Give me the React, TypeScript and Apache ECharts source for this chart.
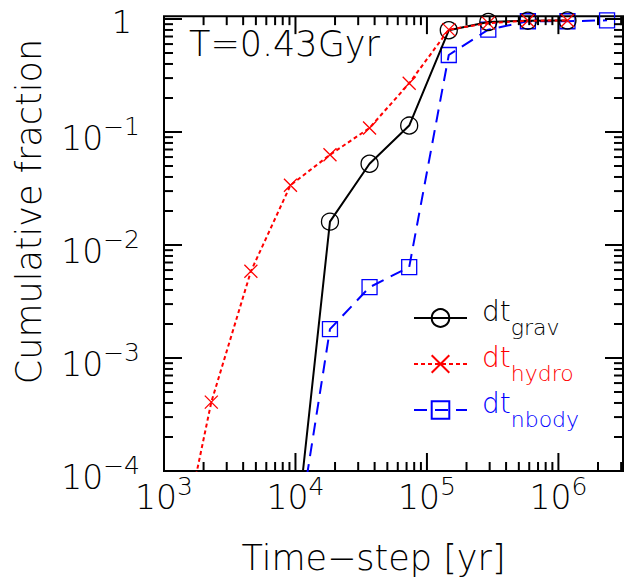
import React, { useEffect, useRef } from 'react';
import * as echarts from 'echarts';

// ---- data ----
const hydroSteps = [1145, 2290, 4580, 9160, 18300, 36600, 73300, 146600, 293000, 586000, 1172000];
const hydroFrac = [8.5e-6, 4.07e-4, 5.85e-3, 0.0338, 0.0629, 0.1086, 0.27, 0.805, 0.92, 0.966, 0.97];

const gravSteps = [9160, 18300, 36600, 73300, 146600, 293000, 586000, 1172000];
const gravFrac = [9.5e-6, 0.0161, 0.0524, 0.114, 0.795, 0.94, 0.966, 0.97];

const nbodySteps = [9160, 18300, 36600, 73300, 146600, 293000, 586000, 1172000, 2345000];
const nbodyFrac = [1.07e-5, 1.8e-3, 4.23e-3, 6.38e-3, 0.48, 0.805, 0.955, 0.955, 0.974];

const xMin = 1e3;
const xMax = 3.1e6;
const yMin = 1e-4;
const yMax = 1.06;

const xDecades = [3, 4, 5, 6];
const yDecades = [-4, -3, -2, -1, 0];

const FONT = 'DejaVu Sans';
const FW = 200;

function buildTicks(decades: number[], lo: number, hi: number) {
  const out: number[][] = [];
  decades.forEach((d) => {
    for (let m = 1; m <= 9; m++) {
      const v = m * Math.pow(10, d);
      if (v >= lo * 0.999 && v <= hi) out.push([v, m === 1 ? 1 : 0]);
    }
  });
  return out;
}

const supLabel = (v: number) => {
  const e = Math.round(Math.log10(v));
  if (e === 0) return '{one|1}';
  return `{b|10}{s|${e < 0 ? '\u2212' + -e : e}}`;
};

const labelRich = {
  b: { fontSize: 33, lineHeight: 33, padding: [12, 0, 0, 0], fontFamily: FONT, fontWeight: FW, color: '#000' },
  s: { fontSize: 25, lineHeight: 25, padding: [0, 0, 11, 0], fontFamily: FONT, fontWeight: FW, color: '#000' },
  one: { fontSize: 32, lineHeight: 26, padding: [6, 8, 0, 0], fontFamily: FONT, fontWeight: FW, color: '#000' },
};

const legendNames = ['grav', 'hydro', 'nbody'];
const legendColors: Record<string, string> = { grav: '#000', hydro: '#ff0000', nbody: '#0000ff' };

const legendRich: Record<string, any> = {};
legendNames.forEach((n) => {
  legendRich['d' + n] = { fontSize: 28, lineHeight: 28, padding: [0, 0, 14, 0], fontFamily: FONT, fontWeight: FW, color: legendColors[n] };
  legendRich['s' + n] = { fontSize: 22, lineHeight: 22, padding: [19, 0, 0, 0], fontFamily: FONT, fontWeight: FW, color: legendColors[n] };
});

export default function App() {
  const ref = useRef<HTMLDivElement>(null);
  useEffect(() => {
    const chart = echarts.init(ref.current!, null, { renderer: 'svg' });
    const xTicks = buildTicks(xDecades, xMin, xMax).map((t) => [t[0], 0.01, t[1]]);
    const yTicks = buildTicks(yDecades, yMin, yMax).map((t) => [1e4, t[0], t[1]]);

    const option: any = {
      animation: false,
      backgroundColor: '#fff',
      title: {
        text: 'T=0.43Gyr',
        left: 189,
        top: 26,
        padding: 0,
        textStyle: { fontFamily: FONT, fontSize: 35, fontWeight: FW, color: '#000', lineHeight: 35 },
      },
      grid: {
        left: 164,
        right: 18,
        top: 13,
        bottom: 112,
        show: true,
        borderColor: '#000',
        borderWidth: 2,
        backgroundColor: 'transparent',
      },
      legend: {
        orient: 'vertical',
        left: 413,
        top: 297,
        padding: 0,
        itemGap: 4,
        itemWidth: 53,
        itemHeight: 22,
        data: legendNames,
        formatter: (n: string) => `{d${n}|dt}{s${n}|${n}}`,
        textStyle: { padding: [0, 0, 0, 10], rich: legendRich },
      },
      xAxis: {
        type: 'log',
        logBase: 10,
        min: xMin,
        max: xMax,
        name: 'Time\u2212step [yr]',
        nameLocation: 'middle',
        nameGap: 69,
        nameTextStyle: { fontFamily: FONT, fontSize: 35, fontWeight: FW, color: '#000', padding: [0, 40, 0, 0] },
        axisLine: { show: false },
        axisTick: { show: false },
        splitLine: { show: false },
        minorTick: { show: false },
        axisLabel: { margin: 4, showMaxLabel: false, formatter: supLabel, rich: labelRich },
      },
      yAxis: {
        type: 'log',
        logBase: 10,
        min: yMin,
        max: yMax,
        name: 'Cumulative fraction',
        nameLocation: 'middle',
        nameRotate: 90,
        nameGap: 118,
        nameTextStyle: { fontFamily: FONT, fontSize: 35, fontWeight: FW, color: '#000', padding: [0, 0, 0, 64] },
        axisLine: { show: false },
        axisTick: { show: false },
        splitLine: { show: false },
        axisLabel: { margin: 24, showMaxLabel: false, formatter: supLabel, rich: labelRich },
      },
      series: [
        {
          type: 'line',
          name: 'grav',
          data: gravSteps.map((x, i) => [x, gravFrac[i]]),
          symbol: 'circle',
          symbolSize: 17,
          itemStyle: { color: 'rgba(0,0,0,0)', borderColor: '#000', borderWidth: 1.3 },
          lineStyle: { color: '#000', width: 2 },
          z: 3,
        },
        {
          type: 'line',
          name: 'hydro',
          data: hydroSteps.map((x, i) => [x, hydroFrac[i]]),
          symbol: 'path://M0,0L10,10M10,0L0,10',
          symbolSize: 13,
          itemStyle: { color: 'rgba(0,0,0,0)', borderColor: '#ff0000', borderWidth: 1.3 },
          lineStyle: { color: '#ff0000', width: 2, type: [4, 3] },
          z: 4,
        },
        {
          type: 'line',
          name: 'nbody',
          data: nbodySteps.map((x, i) => [x, nbodyFrac[i]]),
          symbol: 'rect',
          symbolSize: 15,
          itemStyle: { color: 'rgba(0,0,0,0)', borderColor: '#0000ff', borderWidth: 1.3 },
          lineStyle: { color: '#0000ff', width: 2, type: [13, 8] },
          z: 2,
        },
        {
          type: 'custom',
          name: 'xticks',
          silent: true,
          data: xTicks,
          encode: { x: 0, y: 1 },
          renderItem: (params: any, api: any) => {
            const cs = params.coordSys;
            const px = api.coord([api.value(0), 0.01])[0];
            const len = api.value(2) ? 18 : 9;
            const b = cs.y + cs.height;
            const t = cs.y;
            const st = { stroke: '#000', lineWidth: 2 };
            return {
              type: 'group',
              children: [
                { type: 'line', shape: { x1: px, y1: b, x2: px, y2: b - len }, style: st },
                { type: 'line', shape: { x1: px, y1: t, x2: px, y2: t + len }, style: st },
              ],
            };
          },
          z: 5,
        },
        {
          type: 'custom',
          name: 'yticks',
          silent: true,
          data: yTicks,
          encode: { x: 0, y: 1 },
          renderItem: (params: any, api: any) => {
            const cs = params.coordSys;
            const py = api.coord([1e4, api.value(1)])[1];
            const len = api.value(2) ? 18 : 9;
            const l = cs.x;
            const r = cs.x + cs.width;
            const st = { stroke: '#000', lineWidth: 2 };
            return {
              type: 'group',
              children: [
                { type: 'line', shape: { x1: l, y1: py, x2: l + len, y2: py }, style: st },
                { type: 'line', shape: { x1: r, y1: py, x2: r - len, y2: py }, style: st },
              ],
            };
          },
          z: 5,
        },
      ],
    };
    chart.setOption(option);
    return () => chart.dispose();
  }, []);
  return (
    <div
      ref={ref}
      style={{ position: 'fixed', left: 0, top: 0, width: 641, height: 583, background: '#fff' }}
    />
  );
}
